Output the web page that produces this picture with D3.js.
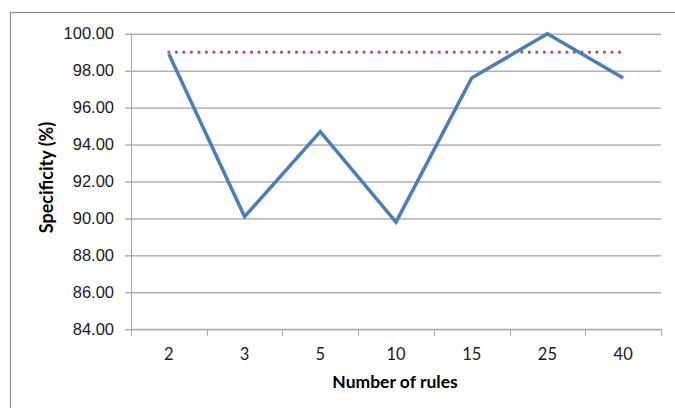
<!DOCTYPE html>
<html>
<head>
<meta charset="utf-8">
<script src="https://cdn.jsdelivr.net/npm/d3@7"></script>
<style>
  html, body { margin: 0; padding: 0; background: #fff; }
  svg { display: block; font-family: Lato, "Open Sans", sans-serif; }
</style>
</head>
<body>
<div id="chart"></div>
<script>
// Specificity by number of rules, with a reference level
const categories = ["2", "3", "5", "10", "15", "25", "40"];
const specificity = [98.9, 90.1, 94.7, 89.8, 97.6, 100.0, 97.6];
const referenceLevel = [99.0, 99.0, 99.0, 99.0, 99.0, 99.0, 99.0];
const yTicks = [84, 86, 88, 90, 92, 94, 96, 98, 100];
const yDomain = [84, 100];

const W = 675, H = 408;
const plot = { left: 131, right: 661, top: 33.7, bottom: 329.3 };

const svg = d3.select("#chart").append("svg")
  .attr("width", W).attr("height", H);

// outer chart frame
svg.append("rect")
  .attr("x", 10.5).attr("y", 12.5)
  .attr("width", 700).attr("height", 420)
  .attr("fill", "none")
  .attr("stroke", "#8c8c8c")
  .attr("stroke-width", 1.2);

const x = d3.scaleBand().domain(categories).range([plot.left, plot.right]).padding(0);
const y = d3.scaleLinear().domain(yDomain).range([plot.bottom, plot.top]);

// horizontal gridlines
const grid = svg.append("g")
  .attr("transform", `translate(${plot.left},0)`)
  .call(d3.axisLeft(y).tickValues(yTicks).tickSize(-(plot.right - plot.left)).tickFormat(""));
grid.select(".domain").remove();
grid.selectAll("line").attr("stroke", "#8a8a8a").attr("stroke-width", 1);

// y axis with tick labels
const yAxis = svg.append("g")
  .attr("transform", `translate(${plot.left},0)`)
  .call(d3.axisLeft(y).tickValues(yTicks).tickSize(6).tickPadding(11).tickFormat(d3.format(".2f")));
yAxis.select(".domain").remove();
yAxis.selectAll("line").attr("stroke", "#8a8a8a");
yAxis.selectAll("text")
  .attr("fill", "#1a1a1a")
  .style("font-size", "16.5px");

// y axis line, extending down past the x axis like a tick
svg.append("line")
  .attr("x1", plot.left + 0.5).attr("x2", plot.left + 0.5)
  .attr("y1", plot.top).attr("y2", plot.bottom + 6.5)
  .attr("stroke", "#a6a6a6").attr("stroke-width", 1);

// x axis line
svg.append("line")
  .attr("x1", plot.left).attr("x2", plot.right)
  .attr("y1", y(yDomain[0])).attr("y2", y(yDomain[0]))
  .attr("stroke", "#a6a6a6").attr("stroke-width", 1);

// x tick marks at category boundaries
const boundaries = categories.slice(1).map(c => x(c)).concat([x.range()[1]]);
svg.append("g").selectAll("line").data(boundaries).join("line")
  .attr("x1", d => Math.round(d) + 0.5).attr("x2", d => Math.round(d) + 0.5)
  .attr("y1", y(yDomain[0])).attr("y2", y(yDomain[0]) + 6.5)
  .attr("stroke", "#a6a6a6");

// x tick labels
svg.append("g").selectAll("text").data(categories).join("text")
  .attr("x", d => x(d) + x.bandwidth() / 2)
  .attr("y", 359.5)
  .attr("text-anchor", "middle")
  .attr("fill", "#1a1a1a")
  .style("font-size", "16.5px")
  .text(d => d);

// reference level (dotted)
const line = d3.line()
  .x((d, i) => x(categories[i]) + x.bandwidth() / 2)
  .y(d => y(d));

svg.append("path")
  .datum(referenceLevel)
  .attr("d", line)
  .attr("fill", "none")
  .attr("stroke", "#c0504d")
  .attr("stroke-width", 3.2)
  .attr("stroke-linecap", "round")
  .attr("stroke-dasharray", "0.01 7.5");

// specificity series
svg.append("path")
  .datum(specificity)
  .attr("d", line)
  .attr("fill", "none")
  .attr("stroke", "#4a7ebb")
  .attr("stroke-width", 3.5)
  .attr("stroke-linejoin", "miter");

// axis titles
svg.append("text")
  .attr("x", (plot.left + plot.right) / 2 - 1)
  .attr("y", 388)
  .attr("text-anchor", "middle")
  .attr("fill", "#000")
  .style("font-size", "17.5px")
  .style("font-weight", "bold")
  .text("Number of rules");

svg.append("text")
  .attr("transform", `translate(53,${(plot.top + plot.bottom) / 2 - 4}) rotate(-90)`)
  .attr("text-anchor", "middle")
  .attr("fill", "#000")
  .style("font-size", "18px")
  .style("font-weight", "bold")
  .text("Specificity (%)");
</script>
</body>
</html>
